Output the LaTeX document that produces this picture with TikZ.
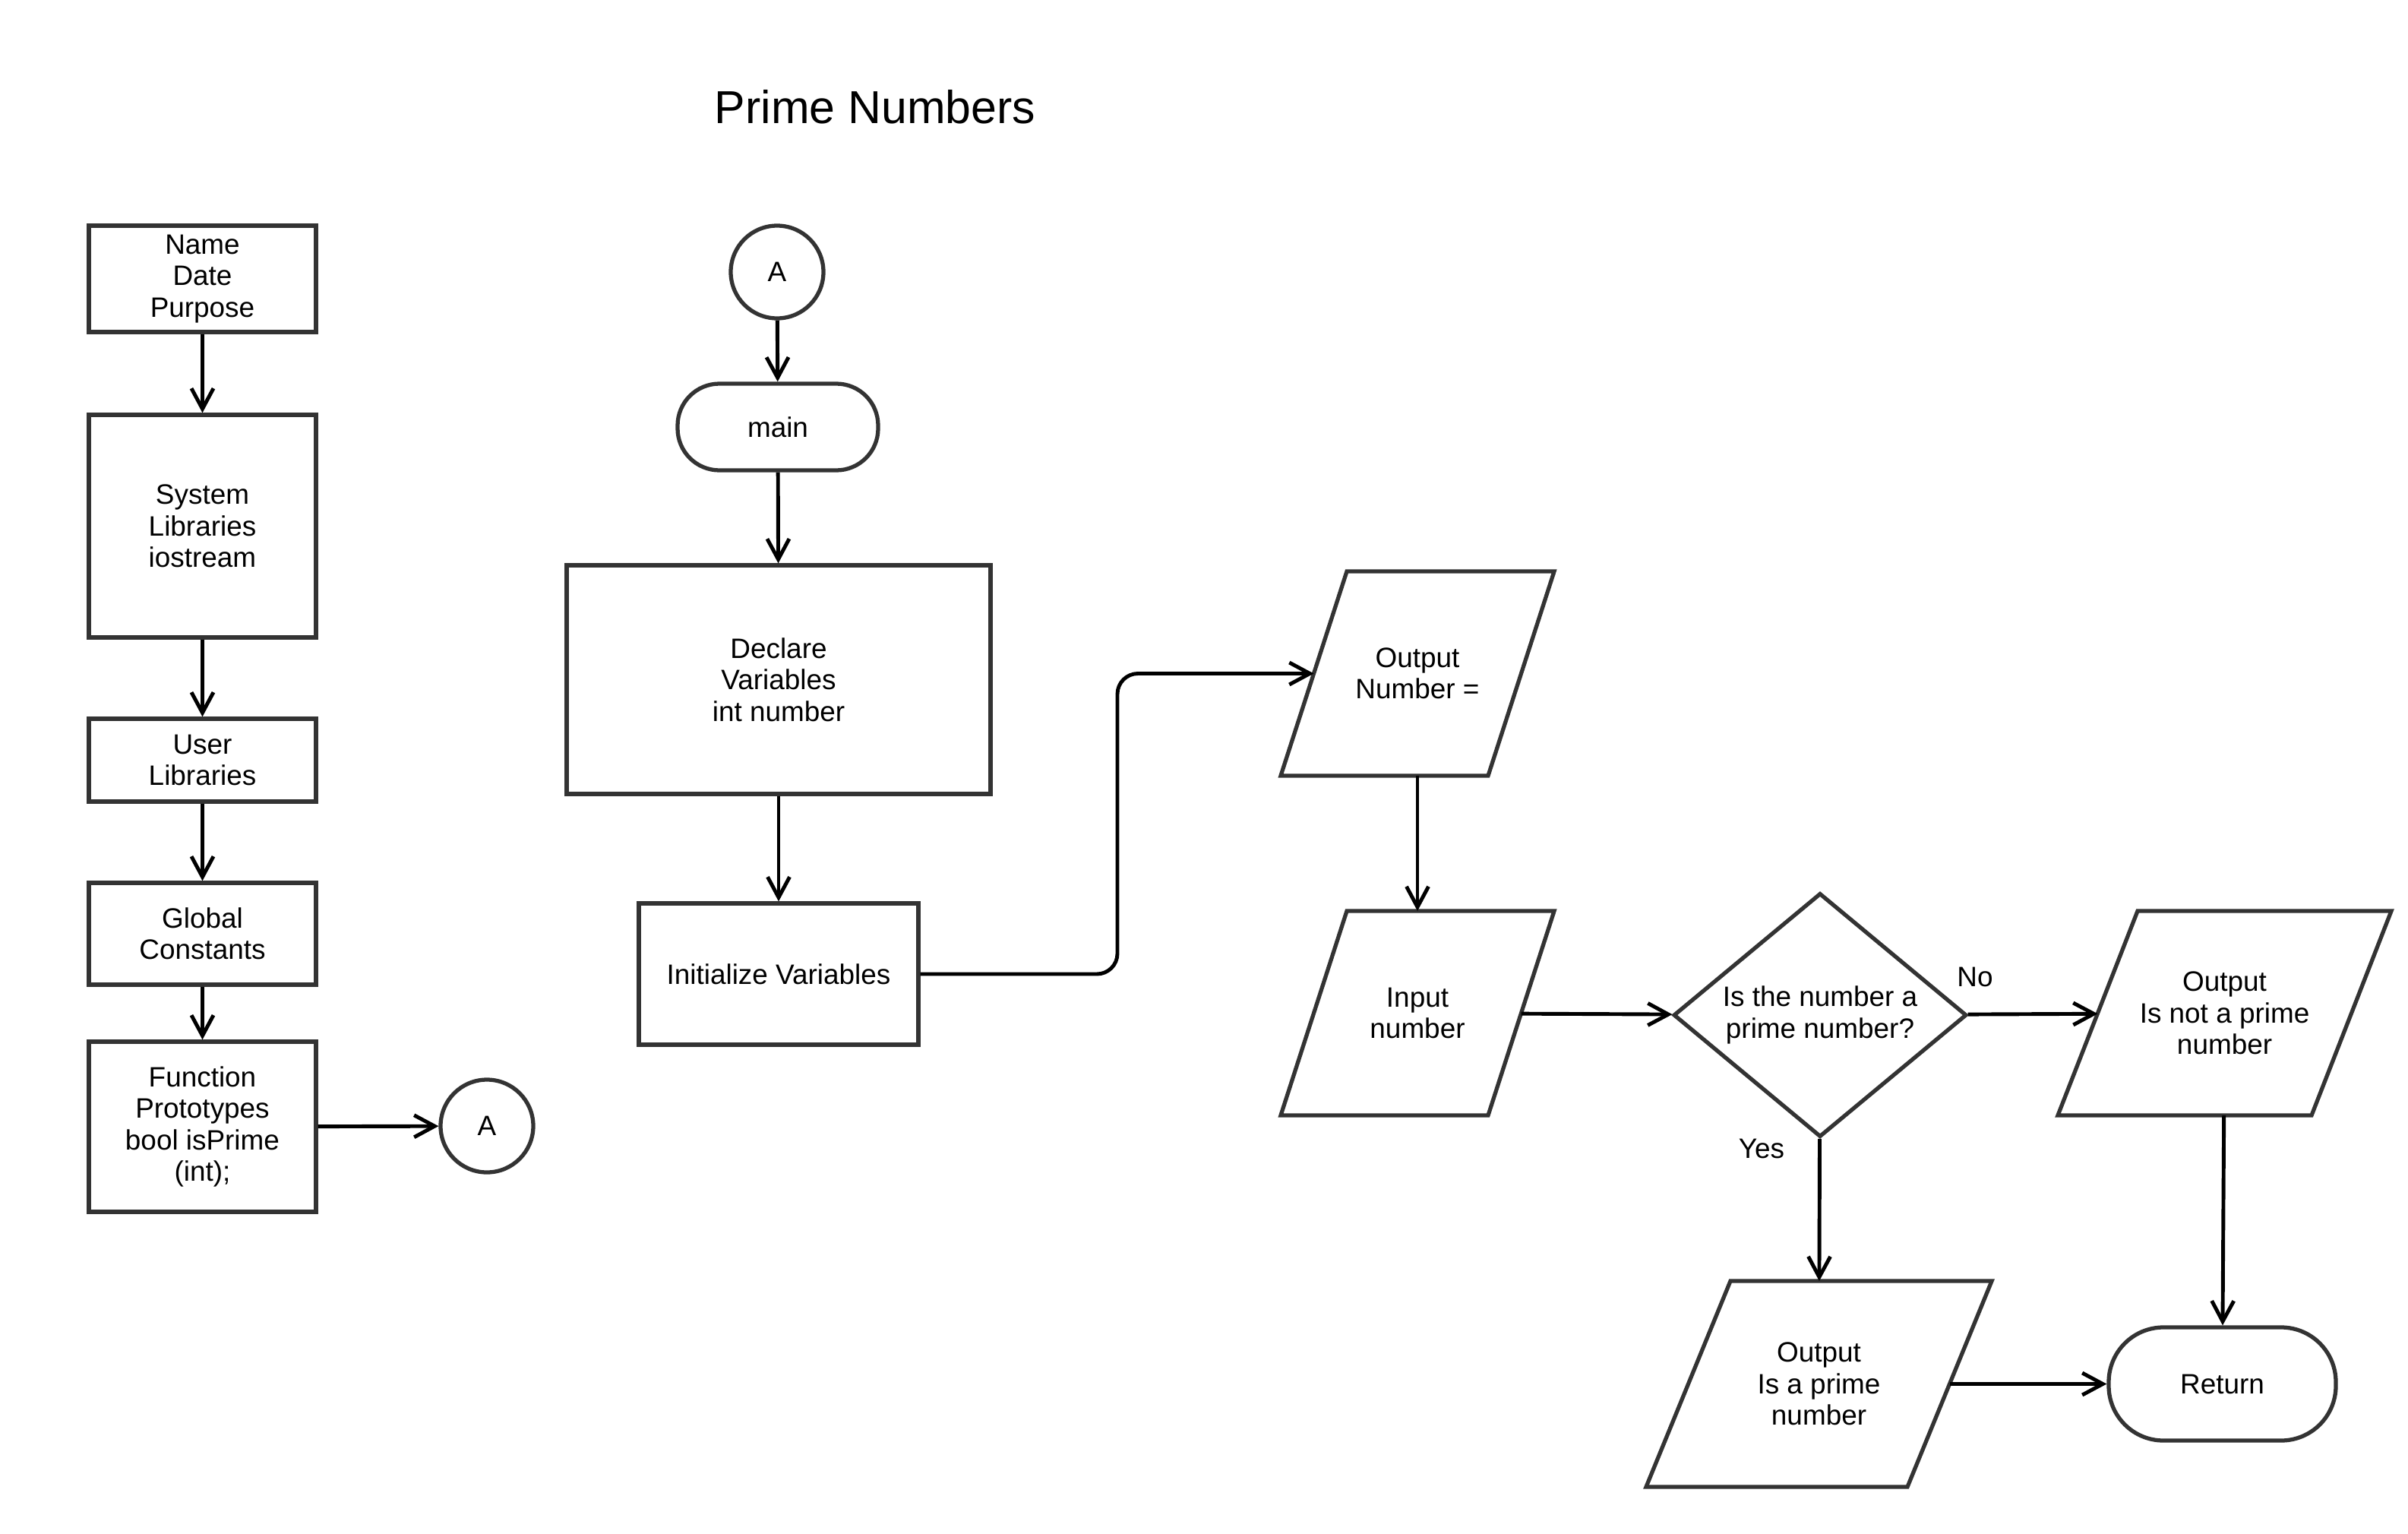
\documentclass[tikz,border=0pt]{standalone}
\usepackage{fontspec}
\setmainfont{Liberation Sans}
\usepackage{tikz}
\usetikzlibrary{shapes.geometric,arrows.meta}
\definecolor{Outline}{RGB}{51,51,51}
\tikzstyle{e}=[line width=1.4pt,draw=black,arrows={-Straight Barb[length=2.7mm,width=2.9mm]}]
\tikzstyle{outline}=[draw=Outline,line width=1.5pt]
\tikzstyle{n}=[outline,fill=white,align=center,inner sep=2pt,font=\fontsize{10.5}{11.8}\selectfont]
\tikzstyle{n box}=[n,rectangle,minimum width=2.99cm]
\tikzstyle{n conn}=[n,circle,minimum size=1.22cm]
\tikzstyle{n io}=[n,rectangle,draw=none,fill=none,outer sep=0pt,minimum height=2.69cm]
\tikzstyle{n test}=[n,diamond,aspect=1.2,inner sep=0pt,minimum width=3.86cm,minimum height=3.21cm]
\tikzstyle{lbl}=[inner sep=0pt,font=\fontsize{10.5}{11.8}\selectfont]

\begin{document}
\begin{tikzpicture}
    \useasboundingbox (0,0) rectangle (31.7,-20.18);

    \node[inner sep=0pt,font=\fontsize{17.3}{20}\selectfont] (title) at (11.52,-1.41) {Prime Numbers};

    % header column
    \node[n box, minimum height=1.40cm] (header)  at (2.665,-3.67)  {Name\\Date\\Purpose};
    \node[n box, minimum height=2.93cm] (syslib)  at (2.665,-6.925) {System\\Libraries\\iostream};
    \node[n box, minimum height=1.09cm] (userlib) at (2.665,-10.005) {User\\Libraries};
    \node[n box, minimum height=1.34cm] (globals) at (2.665,-12.29) {Global\\Constants};
    \node[n box, minimum height=2.24cm] (protos)  at (2.665,-14.83) {Function\\Prototypes\\bool isPrime\\(int);};
    \node[n conn] (offA) at (6.41,-14.82) {A};

    % main
    \node[n conn] (onA) at (10.23,-3.58) {A};
    \node[n box, minimum width=2.64cm, minimum height=1.14cm, rounded corners=0.55cm] (main) at (10.24,-5.62) {main};
    \node[n box, minimum width=5.58cm, minimum height=3.01cm] (declare) at (10.25,-8.945) {Declare\\Variables\\int number};
    \node[n box, minimum width=3.68cm, minimum height=1.86cm] (init) at (10.25,-12.82) {Initialize Variables};

    \node[n io, minimum width=2.73cm] (outnum)   at (18.66,-8.865)   {Output\\Number =};
    \node[n io, minimum width=2.73cm] (innum)    at (18.66,-13.335)  {Input\\number};
    \node[n test] (isit) at (23.96,-13.36) {Is the number a\\prime number?};
    \node[n io, minimum width=3.34cm] (notprime) at (29.285,-13.335) {Output\\Is not a prime\\number};
    \node[n io, minimum width=3.44cm, minimum height=2.71cm] (prime) at (23.945,-18.215) {Output\\Is a prime\\number};
    \node[n box, minimum width=2.99cm, minimum height=1.49cm, rounded corners=0.72cm] (ret) at (29.255,-18.215) {Return};

    % slanted sides of the in/out boxes
    \foreach \nd/\sl in {outnum/0.435, innum/0.435, notprime/0.525, prime/0.555}
      \draw[outline] ([xshift=\sl cm]\nd.north west) -- ([xshift=\sl cm]\nd.north east)
        -- ([xshift=-\sl cm]\nd.south east) -- ([xshift=-\sl cm]\nd.south west) -- cycle;

    \node[lbl] (yes) at (23.19,-15.12) {Yes};
    \node[lbl] (no)  at (26.00,-12.86) {No};

    \coordinate (bend) at (14.71,-12.82);

    \draw[e]
      (header)   edge (syslib)
      (syslib)   edge (userlib)
      (userlib)  edge (globals)
      (globals)  edge (protos)
      (protos)   edge (offA)
      (onA)      edge (main)
      (main)     edge (declare)
      (declare)  edge (init)
      (outnum)   edge (innum)
      (innum)    edge (isit)
      (isit)     edge (notprime)
      (isit)     edge (prime)
      (notprime) edge (ret)
      (prime)    edge (ret);

    \draw[e,rounded corners=0.27cm] (init) -- (bend) |- (outnum);

  \end{tikzpicture}
\end{document}
